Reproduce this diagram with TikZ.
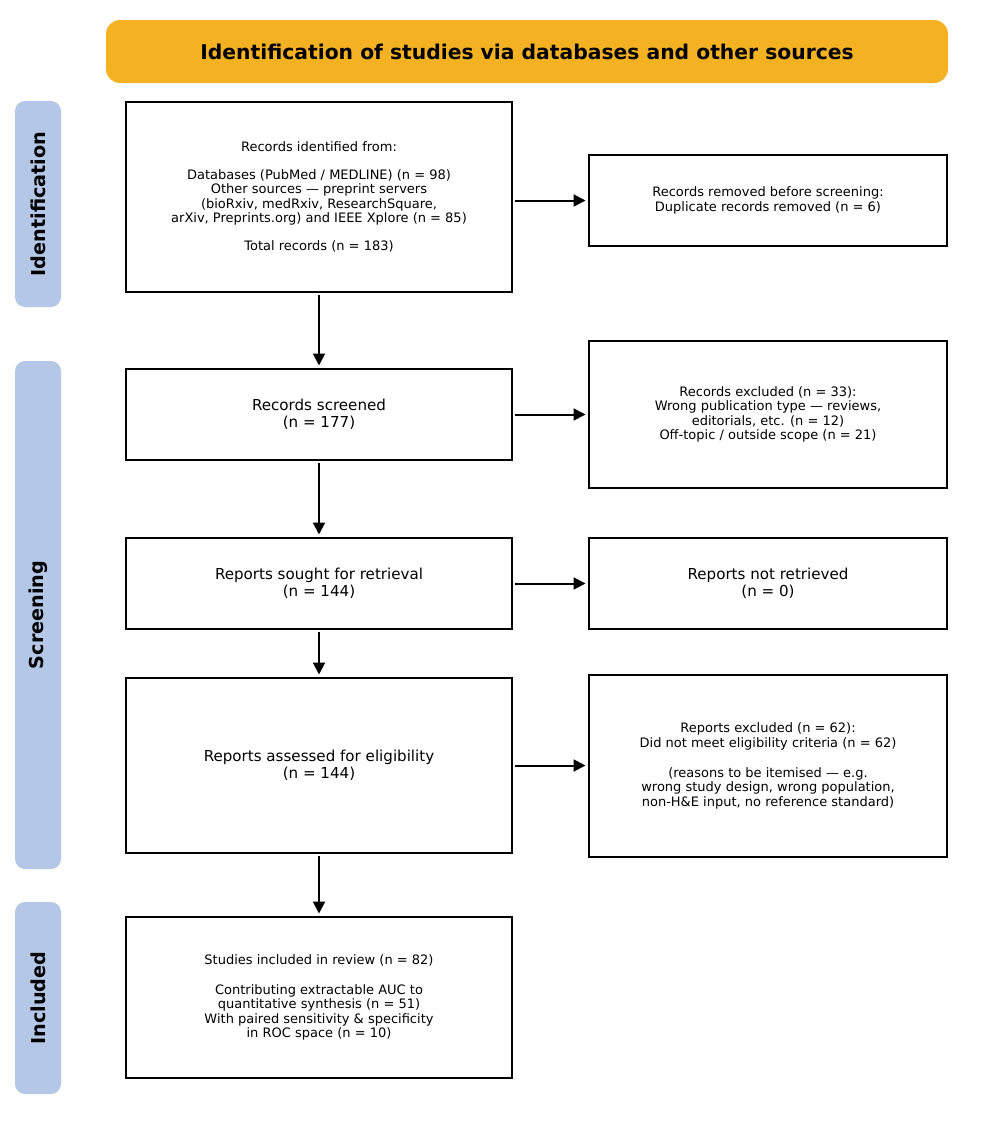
\documentclass[tikz,border=0pt]{standalone}
\usepackage{fontspec}
\setmainfont{DejaVu Sans}
\usetikzlibrary{arrows.meta}
\definecolor{titlebg}{HTML}{F4B223}
\definecolor{sidebg}{HTML}{B4C7E7}
\tikzset{
  box/.style={draw=black, line width=2pt, fill=white, align=center, inner sep=0pt},
  small/.style={font=\fontsize{13}{14.6}\selectfont},
  big/.style={font=\fontsize{15.1}{17}\selectfont},
  side/.style={fill=sidebg, rounded corners=10pt, inner sep=0pt, minimum width=46pt},
  sidelabel/.style={rotate=90, font=\bfseries\fontsize{19.2}{21}\selectfont},
  arr/.style={-{Triangle[length=12pt,width=12pt]}, line width=2pt, shorten >=2.5pt, shorten <=2pt},
}
\begin{document}
\begin{tikzpicture}[x=1pt,y=-1pt]
\useasboundingbox[fill=white] (0,0) rectangle (986,1146);
% title
\node[fill=titlebg, rounded corners=14pt, minimum width=842pt, minimum height=63pt, inner sep=0pt,
  font=\bfseries\fontsize{20.3}{22}\selectfont] (title) at (527,51.5) {Identification of studies via databases and other sources};
% side bars
\node[side, minimum height=206pt] (sid) at (38,204) {};
\node[sidelabel] (sidt) at (sid.center) {Identification};
\node[side, minimum height=508pt] (sscr) at (38,615) {};
\node[sidelabel] (sscrt) at (sscr.center) {Screening};
\node[side, minimum height=192pt] (sinc) at (38,998) {};
\node[sidelabel] (sinct) at (sinc.center) {Included};
% main column
\node[box, small, minimum width=386pt, minimum height=190pt] (b1) at (319,197)
  {Records identified from:\\[13.4pt]
   Databases (PubMed / MEDLINE) (n = 98)\\
   Other sources — preprint servers\\
   (bioRxiv, medRxiv, ResearchSquare,\\
   arXiv, Preprints.org) and IEEE Xplore (n = 85)\\[13.4pt]
   Total records (n = 183)};
\node[box, big, minimum width=386pt, minimum height=91pt] (b2) at (319,414.5)
  {Records screened\\(n = 177)};
\node[box, big, minimum width=386pt, minimum height=91pt] (b3) at (319,583.5)
  {Reports sought for retrieval\\(n = 144)};
\node[box, big, minimum width=386pt, minimum height=175pt] (b4) at (319,765.5)
  {Reports assessed for eligibility\\(n = 144)};
\node[box, small, minimum width=386pt, minimum height=161pt] (b5) at (319,997.5)
  {Studies included in review (n = 82)\\[15pt]
   Contributing extractable AUC to\\
   quantitative synthesis (n = 51)\\
   With paired sensitivity \& specificity\\
   in ROC space (n = 10)};
% right column
\node[box, small, minimum width=358pt, minimum height=91pt] (r1) at (768,200.5)
  {Records removed before screening:\\Duplicate records removed (n = 6)};
\node[box, small, minimum width=358pt, minimum height=147pt] (r2) at (768,414.5)
  {Records excluded (n = 33):\\
   Wrong publication type — reviews,\\
   editorials, etc. (n = 12)\\
   Off-topic / outside scope (n = 21)};
\node[box, big, minimum width=358pt, minimum height=91pt] (r3) at (768,583.5)
  {Reports not retrieved\\(n = 0)};
\node[box, small, minimum width=358pt, minimum height=182pt] (r4) at (768,766)
  {Reports excluded (n = 62):\\
   Did not meet eligibility criteria (n = 62)\\[15.6pt]
   (reasons to be itemised — e.g.\\
   wrong study design, wrong population,\\
   non-H\&E input, no reference standard)};
% arrows
\draw[arr] (b1.south) -- (b2.north);
\draw[arr] (b2.south) -- (b3.north);
\draw[arr] (b3.south) -- (b4.north);
\draw[arr] (b4.south) -- (b5.north);
\draw[arr] (b1.east |- r1.west) -- (r1.west);
\draw[arr] (b2.east) -- (r2.west);
\draw[arr] (b3.east) -- (r3.west);
\draw[arr] (b4.east) -- (b4.east -| r4.west);
\end{tikzpicture}
\end{document}
